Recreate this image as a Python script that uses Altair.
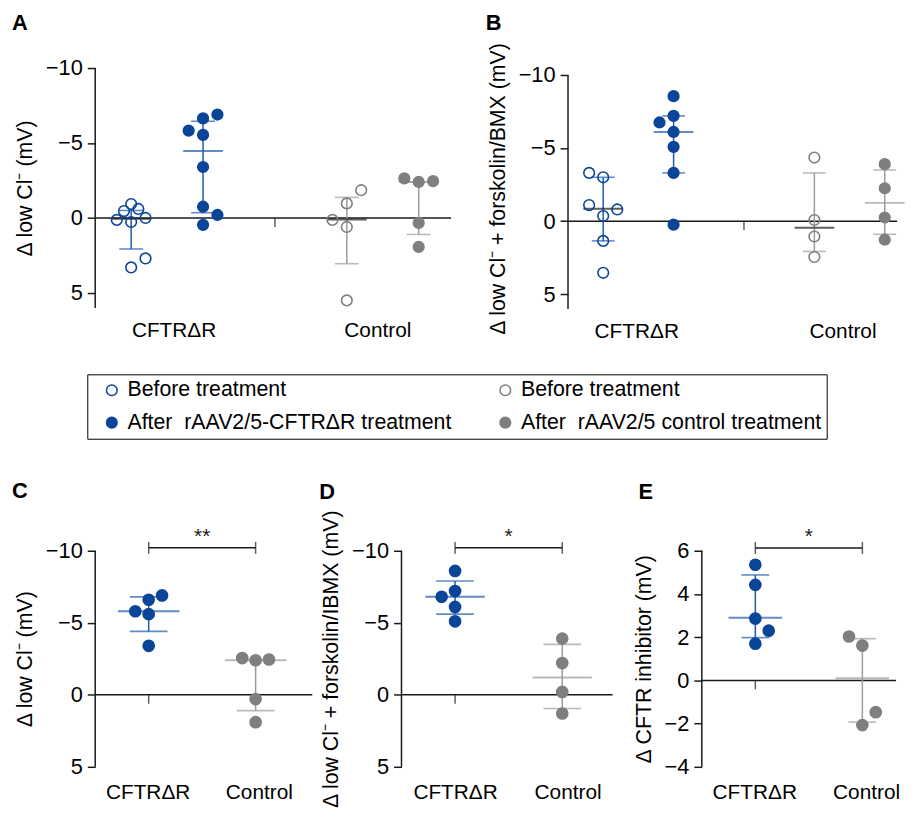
import altair as alt
import pandas as pd

FONT = "Liberation Sans"
BLUE_DOT = "#0a4599"
BLUE_LINE = "#1f5bab"
GRAY_DOT = "#7f7f7f"
GRAY_LINE = "#9c9c9c"
INK = "#1a1a1a"

# ---------------- data ----------------
# legend is laid out column by column: column 1 = CFTRΔR groups, column 2 = control groups
GROUPS = ["CFTRΔR before", "CFTRΔR after", "Control before", "Control after"]
LEGEND_LABELS = ["Before treatment", "After\u00a0 rAAV2/5-CFTRΔR treatment",
                 "Before treatment", "After\u00a0 rAAV2/5 control treatment"]
CATEGORIES = ["CFTRΔR", "Control"]

# Panel A: Δ low Cl− (mV)
A_cftr_before = [-0.93, -0.46, -0.6, 0.13, 0.27, 0.0, 2.7, 3.3]
A_cftr_before_col = [0, -0.5, 0.5, -1, 0, 1, 1, 0]
A_cftr_after = [-5.83, -6.64, -6.9, -5.54, -3.4, -0.75, -0.2, 0.46]
A_cftr_after_col = [-1, 0, 1, 0, 0, 0, 1, 0]
A_ctrl_before = [0.13, -0.97, -1.85, 0.6, 5.5]
A_ctrl_before_col = [-1, 0, 1, 0, 0]
A_ctrl_after = [-2.64, -2.4, -2.46, 0.33, 1.93]
A_ctrl_after_col = [-1, 0, 1, 0, 0]
# summary (centre line, upper whisker, lower whisker): CFTR before, CFTR after, Control before, Control after
A_center = [0.05, -4.46, 0.1, -2.4]
A_upper = [-0.5, -6.45, -1.37, -2.4]
A_lower = [2.07, -0.35, 3.05, 1.1]

# Panel B: Δ low Cl− + forskolin/BMX (mV)
B_cftr_before = [-3.3, -3.0, -1.1, -0.8, -0.35, 1.35, 3.53]
B_cftr_before_col = [-1, 0, -1, 1, 0, 0, 0]
B_cftr_after = [-8.55, -7.2, -6.75, -6.1, -5.08, -3.3, 0.24]
B_cftr_after_col = [0, 0, -1, 0, 0, 0, 0]
B_ctrl_before = [-4.35, -0.08, 1.05, 2.45]
B_ctrl_before_col = [0, 0, 0, 0]
B_ctrl_after = [-3.9, -2.25, -0.25, 1.27]
B_ctrl_after_col = [0, 0, 0, 0]
B_center = [-0.85, -6.1, 0.45, -1.25]
B_upper = [-3.0, -7.2, -3.3, -3.5]
B_lower = [1.35, -3.3, 2.07, 0.9]

# Panel C: Δ low Cl− (mV), after treatment
C_cftr = [-6.9, -6.6, -5.8, -5.6, -3.4]
C_cftr_col = [1, 0, -1, 0, 0]
C_ctrl = [-2.55, -2.4, -2.45, 0.3, 1.9]
C_ctrl_col = [-1, 0, 1, 0, 0]
C_center = [-5.8, -2.4]
C_upper = [-6.8, -2.4]
C_lower = [-4.4, 1.1]

# Panel D: Δ low Cl− + forskolin/IBMX (mV)
D_cftr = [-8.6, -7.2, -6.8, -6.1, -5.1]
D_cftr_col = [0, 0, -1, 0, 0]
D_ctrl = [-3.9, -2.2, -0.2, 1.3]
D_ctrl_col = [0, 0, 0, 0]
D_center = [-6.8, -1.2]
D_upper = [-7.9, -3.5]
D_lower = [-5.6, 0.95]

# Panel E: Δ CFTR inhibitor (mV)
E_cftr = [5.35, 4.42, 2.86, 2.3, 1.7]
E_cftr_col = [0, 0, 0, 1, 0]
E_ctrl = [2.03, 1.61, -1.47, -2.07]
E_ctrl_col = [-1, 0, 1, 0]
E_center = [2.9, 0.1]
E_upper = [4.88, 1.93]
E_lower = [1.98, -1.93]

SIG_C = "**"
SIG_D = "*"
SIG_E = "*"

# ---------------- helpers ----------------
POS_AB = {"CFTRΔR before": 1, "CFTRΔR after": 3, "Control before": 7, "Control after": 9}
POS_CDE = {"CFTRΔR after": 1, "Control after": 3}
ORDER_AB = ["CFTRΔR before", "CFTRΔR after", "Control before", "Control after"]
ORDER_CDE = ["CFTRΔR after", "Control after"]

one = pd.DataFrame({"n": [0]})


def points_frame(series, pos, jit):
    rows = []
    for grp, vals, cols in series:
        for v, c in zip(vals, cols):
            rows.append({"grp": grp, "v": v, "x": pos[grp] + c * jit})
    return pd.DataFrame(rows)


def summary_frame(order, center, upper, lower, pos):
    return pd.DataFrame({
        "grp": order,
        "x": [pos[g] for g in order],
        "center": center,
        "upper": upper,
        "lower": lower,
        "before": ["before" in g for g in order],
    })


def by_group(mapping):
    return [mapping[g] for g in GROUPS]


stroke_scale = alt.Scale(domain=GROUPS, range=by_group({
    "CFTRΔR before": BLUE_DOT, "CFTRΔR after": BLUE_DOT,
    "Control before": GRAY_DOT, "Control after": GRAY_DOT}))
fill_scale = alt.Scale(domain=GROUPS, range=by_group({
    "CFTRΔR before": "transparent", "CFTRΔR after": BLUE_DOT,
    "Control before": "transparent", "Control after": GRAY_DOT}))
line_scale = alt.Scale(domain=GROUPS, range=by_group({
    "CFTRΔR before": BLUE_LINE, "CFTRΔR after": BLUE_LINE,
    "Control before": GRAY_LINE, "Control after": GRAY_LINE}))

legend_expr = ""
for g, lab in zip(GROUPS[:-1], LEGEND_LABELS[:-1]):
    legend_expr += f"datum.label == '{g}' ? '{lab}' : "
legend_expr += f"'{LEGEND_LABELS[-1]}'"

LEGEND = alt.Legend(
    orient="none", legendX=-8, legendY=309, columns=2, title=None,
    strokeColor="black", padding=5, labelFont=FONT, labelFontSize=21.5,
    labelColor="black", labelLimit=500, labelOffset=5, symbolOffset=9,
    symbolType="circle", symbolSize=115, symbolStrokeWidth=1.5,
    rowPadding=10, columnPadding=34, labelExpr=legend_expr,
)


def panel(letter, pts, summ, *, width, height, xmax, ydom, yspan, yticks, reverse,
          ytitle, label_at, label_pad, mid_x, mean_size, cap_size, dot_size, title_dx,
          title_offset, legend=None, bracket=None):
    xs = alt.Scale(domain=[0, xmax], nice=False, zero=False)
    ys = alt.Scale(domain=ydom, reverse=reverse, nice=False, zero=False)
    cut = (label_at[0] + label_at[1]) / 2
    xax = alt.Axis(values=label_at, labelExpr=f"datum.value < {cut} ? '{CATEGORIES[0]}' : '{CATEGORIES[1]}'",
                   domain=False, ticks=False, tickSize=0, grid=False, title=None,
                   labelFont=FONT, labelFontSize=21, labelColor="black",
                   labelPadding=label_pad, labelFlush=False, labelOverlap=False)
    yax = alt.Axis(values=yticks, labelExpr="datum.value < 0 ? '\u2212' + format(-datum.value, 'd') : format(datum.value, 'd')",
                   domain=False, tickSize=8, tickWidth=1.5, tickColor=INK, grid=False,
                   labelFont=FONT, labelFontSize=22, labelColor="black", labelPadding=5,
                   title=ytitle, titleFont=FONT, titleFontSize=21.5, titleFontWeight="normal",
                   titleColor="black", titlePadding=9)

    def X(f):
        return alt.X(f, type="quantitative", scale=xs, axis=xax)

    def Y(f):
        return alt.Y(f, type="quantitative", scale=ys, axis=yax)

    color = alt.Color("grp:N", scale=line_scale, legend=None)
    layers = [
        alt.Chart(one).mark_rule(color=INK, strokeWidth=1.5).encode(
            x=alt.value(0), y=alt.YDatum(yspan[0], type="quantitative", scale=ys, axis=yax),
            y2=alt.datum(yspan[1])),
        alt.Chart(one).mark_rule(color=INK, strokeWidth=1.5).encode(
            y=alt.YDatum(0, type="quantitative", scale=ys, axis=yax)),
        alt.Chart(one).mark_tick(orient="vertical", size=9, thickness=1.5, color=INK, yOffset=4.5).encode(
            x=alt.XDatum(mid_x, type="quantitative", scale=xs, axis=xax),
            y=alt.YDatum(0, type="quantitative", scale=ys, axis=yax)),
        alt.Chart(summ).mark_rule(strokeWidth=1.5).encode(x=X("x"), y=Y("upper"), y2="lower", color=color),
        alt.Chart(summ).mark_tick(orient="horizontal", size=cap_size, thickness=1.6).encode(
            x=X("x"), y=Y("upper"), color=color),
        alt.Chart(summ).mark_tick(orient="horizontal", size=cap_size, thickness=1.6).encode(
            x=X("x"), y=Y("lower"), color=color),
        alt.Chart(summ).transform_filter("datum.before").mark_tick(
            orient="horizontal", size=mean_size, thickness=2, color=INK).encode(x=X("x"), y=Y("center")),
        alt.Chart(summ).transform_filter("!datum.before").mark_tick(
            orient="horizontal", size=mean_size, thickness=2).encode(x=X("x"), y=Y("center"), color=color),
        alt.Chart(pts).mark_point(shape="circle", size=dot_size, strokeWidth=1.6, opacity=1).encode(
            x=X("x"), y=Y("v"),
            stroke=alt.Stroke("grp:N", scale=stroke_scale, legend=legend),
            fill=alt.Fill("grp:N", scale=fill_scale, legend=legend)),
    ]
    if bracket is not None:
        bdf = pd.DataFrame({"x1": [bracket["x1"]], "x2": [bracket["x2"]],
                            "xm": [(bracket["x1"] + bracket["x2"]) / 2],
                            "y": [bracket["y"]], "label": [bracket["label"]]})
        layers += [
            alt.Chart(bdf).mark_rule(color=INK, strokeWidth=1.5).encode(x=X("x1"), x2="x2", y=Y("y")),
            alt.Chart(bdf).mark_tick(orient="vertical", size=12, thickness=1.5, color=INK).encode(x=X("x1"), y=Y("y")),
            alt.Chart(bdf).mark_tick(orient="vertical", size=12, thickness=1.5, color=INK).encode(x=X("x2"), y=Y("y")),
            alt.Chart(bdf).mark_text(font=FONT, fontSize=21, color=INK, dy=-5, baseline="alphabetic").encode(
                x=X("xm"), y=Y("y"), text="label:N"),
        ]
    return alt.layer(*layers).properties(
        width=width, height=height,
        title=alt.TitleParams(letter, anchor="start", frame="group", dx=title_dx,
                              offset=title_offset, font=FONT, fontSize=22,
                              fontWeight="bold", color="black"),
    )


ptsA = points_frame([("CFTRΔR before", A_cftr_before, A_cftr_before_col),
                     ("CFTRΔR after", A_cftr_after, A_cftr_after_col),
                     ("Control before", A_ctrl_before, A_ctrl_before_col),
                     ("Control after", A_ctrl_after, A_ctrl_after_col)], POS_AB, 0.4)
ptsB = points_frame([("CFTRΔR before", B_cftr_before, B_cftr_before_col),
                     ("CFTRΔR after", B_cftr_after, B_cftr_after_col),
                     ("Control before", B_ctrl_before, B_ctrl_before_col),
                     ("Control after", B_ctrl_after, B_ctrl_after_col)], POS_AB, 0.4)
ptsC = points_frame([("CFTRΔR after", C_cftr, C_cftr_col), ("Control after", C_ctrl, C_ctrl_col)], POS_CDE, 0.25)
ptsD = points_frame([("CFTRΔR after", D_cftr, D_cftr_col), ("Control after", D_ctrl, D_ctrl_col)], POS_CDE, 0.25)
ptsE = points_frame([("CFTRΔR after", E_cftr, E_cftr_col), ("Control after", E_ctrl, E_ctrl_col)], POS_CDE, 0.25)

sumA = summary_frame(ORDER_AB, A_center, A_upper, A_lower, POS_AB)
sumB = summary_frame(ORDER_AB, B_center, B_upper, B_lower, POS_AB)
sumC = summary_frame(ORDER_CDE, C_center, C_upper, C_lower, POS_CDE)
sumD = summary_frame(ORDER_CDE, D_center, D_upper, D_lower, POS_CDE)
sumE = summary_frame(ORDER_CDE, E_center, E_upper, E_lower, POS_CDE)

pA = panel("A", ptsA, sumA, width=359, height=242, xmax=9.9, ydom=[-10, 6], yspan=[-10, 6],
           yticks=[-10, -5, 0, 5], reverse=True, ytitle="Δ low Cl\u207b (mV)",
           label_at=[2.18, 7.85], label_pad=12, mid_x=5, mean_size=40, cap_size=24, dot_size=115,
           title_dx=-84, title_offset=22, legend=LEGEND)
pB = panel("B", ptsB, sumB, width=332, height=243, xmax=9.35, ydom=[-10.47, 6], yspan=[-10, 6],
           yticks=[-10, -5, 0, 5], reverse=True, ytitle="Δ low Cl\u207b + forskolin/BMX (mV)",
           label_at=[1.94, 7.8], label_pad=12, mid_x=5, mean_size=40, cap_size=23, dot_size=115,
           title_dx=-83, title_offset=7, legend=None)
pC = panel("C", ptsC, sumC, width=219, height=218, xmax=4.06, ydom=[-10, 5], yspan=[-10, 5],
           yticks=[-10, -5, 0, 5], reverse=True, ytitle="Δ low Cl\u207b (mV)",
           label_at=[0.98, 3.06], label_pad=15, mid_x=1, mean_size=62, cap_size=38, dot_size=125,
           title_dx=-84, title_offset=23, bracket={"x1": 1, "x2": 3, "y": -10.2, "label": SIG_C})
pD = panel("D", ptsD, sumD, width=213, height=218, xmax=3.94, ydom=[-10, 5], yspan=[-10, 5],
           yticks=[-10, -5, 0, 5], reverse=True, ytitle="Δ low Cl\u207b + forskolin/IBMX (mV)",
           label_at=[1.0, 3.1], label_pad=15, mid_x=1, mean_size=60, cap_size=38, dot_size=125,
           title_dx=-83, title_offset=5, bracket={"x1": 1, "x2": 3, "y": -10.2, "label": SIG_D})
pE = panel("E", ptsE, sumE, width=196, height=218, xmax=3.63, ydom=[-4, 6], yspan=[-4, 6],
           yticks=[6, 4, 2, 0, -2, -4], reverse=False, ytitle="Δ CFTR inhibitor (mV)",
           label_at=[0.98, 3.07], label_pad=15, mid_x=1, mean_size=54, cap_size=28, dot_size=125,
           title_dx=-64, title_offset=22, bracket={"x1": 1, "x2": 3, "y": 6.13, "label": SIG_E})

row1 = alt.hconcat(pA, pB, spacing=118, bounds="flush").resolve_legend(stroke="independent", fill="independent")
row3 = alt.hconcat(pC, pD, pE, spacing=90, bounds="flush").resolve_legend(stroke="independent", fill="independent")

chart = alt.vconcat(row1, row3, spacing=487, bounds="flush").resolve_legend(
    stroke="independent", fill="independent"
).properties(
    padding={"left": 4, "top": 0, "right": 0, "bottom": 0}
).configure(font=FONT).configure_view(stroke=None)

chart.save("out.html", embed_options={"renderer": "svg", "actions": False})
